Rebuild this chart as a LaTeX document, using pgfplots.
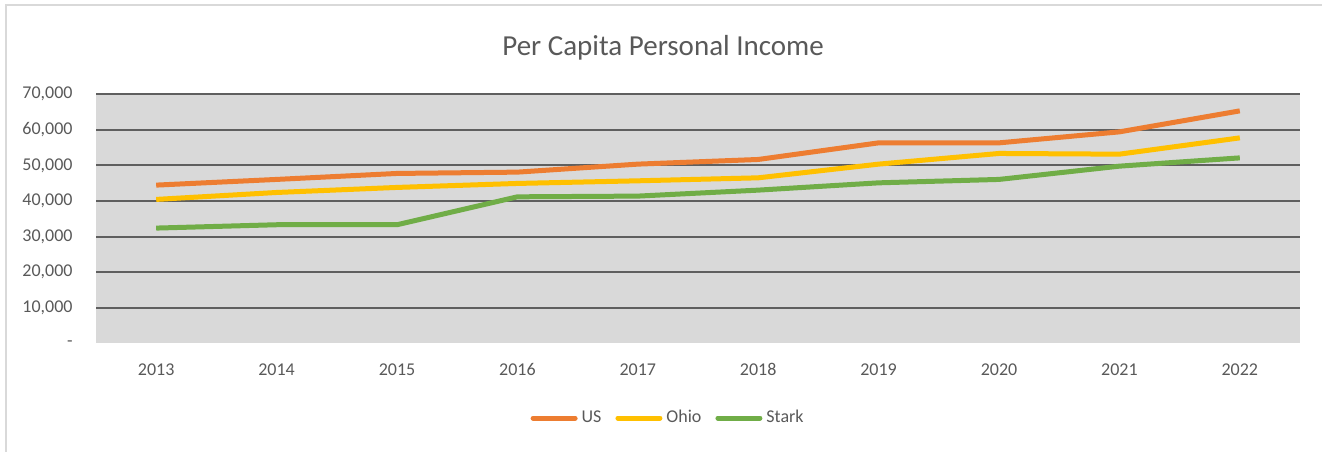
\documentclass[border=0pt]{standalone}
\usepackage{fontspec}
\setmainfont{Carlito}
\usepackage{pgfplots}
\pgfplotsset{compat=1.18}
\definecolor{txtgray}{HTML}{595959}
\definecolor{gridgray}{HTML}{5F5F5F}
\definecolor{bggray}{HTML}{D9D9D9}
\definecolor{framegray}{HTML}{D9D9D9}
\definecolor{usorange}{HTML}{ED7D31}
\definecolor{ohyellow}{HTML}{FFC000}
\definecolor{stgreen}{HTML}{70AD47}

\begin{document}
\begin{tikzpicture}
\useasboundingbox (-48pt,-53.85pt) rectangle (613pt,171.65pt);
\draw[framegray,line width=1pt] (-45pt,-60pt) -- (-45pt,169.15pt) -- (620pt,169.15pt);
\begin{axis}[
  at={(0,0)},anchor=south west,
  scale only axis,width=602pt,height=124.5pt,
  xmin=2012.5,xmax=2022.5,ymin=0,ymax=70000,
  xtick={2013,2014,2015,2016,2017,2018,2019,2020,2021,2022},
  xticklabels={2013,2014,2015,2016,2017,2018,2019,2020,2021,2022},
  ytick={10000,20000,30000,40000,50000,60000,70000},
  yticklabels={{10,000},{20,000},{30,000},{40,000},{50,000},{60,000},{70,000}},
  extra y ticks={0},
  extra y tick labels={-},
  extra y tick style={ymajorgrids=false},
  scaled y ticks=false,
  major tick length=0pt,
  axis line style={draw=none},
  axis background/.style={fill=bggray},
  ymajorgrids,
  major grid style={gridgray,line width=1pt},
  tick label style={font=\fontsize{9}{11}\selectfont,text=txtgray,inner sep=0pt},
  xticklabel style={anchor=center,yshift=-13.3pt},
  yticklabel style={anchor=east,xshift=-11.5pt},
  title={Per Capita Personal Income},
  title style={font=\fontsize{14.5}{17}\selectfont,text=txtgray,at={(0.471,1.137)},anchor=center,yshift=0pt},
  legend columns=3,
  legend style={draw=none,fill=none,font=\fontsize{9}{11}\selectfont,text=txtgray,
    at={(0.476,-0.30)},anchor=center,inner sep=0pt,
    /tikz/every even column/.append style={column sep=5pt}},
  legend image code/.code={\draw[#1,line width=2.5pt,line cap=round] (0pt,0pt) -- (21pt,0pt);},
  every axis plot/.append style={line width=2.5pt,line join=round,no markers},
]
\addplot[usorange] coordinates {
  (2013,44470) (2014,46070) (2015,47750) (2016,48120) (2017,50370)
  (2018,51680) (2019,56350) (2020,56350) (2021,59440) (2022,65340)};
\addlegendentry{US}
\addplot[ohyellow] coordinates {
  (2013,40450) (2014,42400) (2015,43820) (2016,44940) (2017,45680)
  (2018,46520) (2019,50370) (2020,53370) (2021,53170) (2022,57750)};
\addlegendentry{Ohio}
\addplot[stgreen] coordinates {
  (2013,32390) (2014,33330) (2015,33330) (2016,41180) (2017,41380)
  (2018,43060) (2019,45110) (2020,46070) (2021,49800) (2022,52130)};
\addlegendentry{Stark}
\end{axis}
\end{tikzpicture}
\end{document}
